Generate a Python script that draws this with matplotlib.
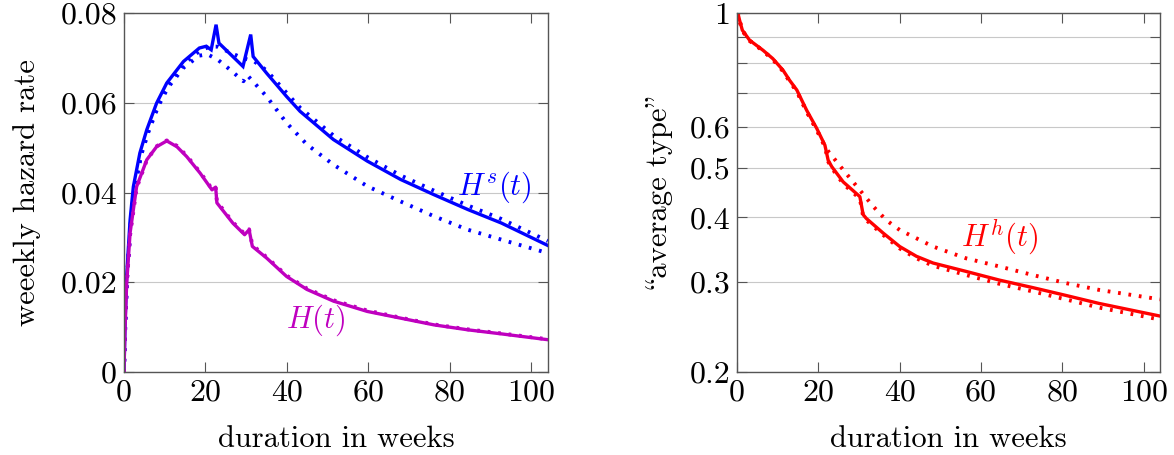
import numpy as np
import matplotlib.pyplot as plt

plt.rcParams["font.family"] = ["cmr10", "DejaVu Serif"]
plt.rcParams["mathtext.fontset"] = "cm"
plt.rcParams["axes.unicode_minus"] = False

# --- left panel: weekly hazard rates ---
t_hs = [0, 0.25, 0.65, 1.5, 2.3, 3.9, 5.6, 8, 10.5, 14.6, 18.5, 20.2, 21.4, 22.6, 23.3,
        29.2, 31.1, 31.7, 35, 39.9, 43.2, 51.4, 59.7, 67.9, 76.1, 84.4, 92.6, 104]
hs = [0, 0.0102, 0.0213, 0.0339, 0.0413, 0.0488, 0.0540, 0.0599, 0.0644, 0.0692, 0.0722,
      0.0726, 0.0718, 0.0774, 0.0733, 0.0681, 0.0752, 0.0703, 0.0666, 0.0614, 0.0581,
      0.0518, 0.0470, 0.0429, 0.0395, 0.0362, 0.0332, 0.0282]

t_hs_up = [0, 0.3, 0.75, 1.7, 2.6, 4.2, 6, 8.4, 10.8, 14.6, 18.5, 21, 23, 26, 29, 32, 35,
           39.9, 43.2, 51.4, 59.7, 67.9, 76.1, 84.4, 92.6, 104]
hs_up = [0, 0.0100, 0.0210, 0.0335, 0.0410, 0.0485, 0.0538, 0.0597, 0.0640, 0.0686, 0.0715,
         0.0725, 0.0725, 0.0712, 0.0700, 0.0692, 0.0672, 0.0622, 0.0589, 0.0527, 0.0479,
         0.0438, 0.0404, 0.0371, 0.0341, 0.0292]

t_hs_lo = [0, 0.3, 0.75, 1.7, 2.6, 4.2, 6, 8.4, 10.8, 14.6, 18.5, 20.5, 23, 26, 29.3, 30.2,
           35, 39.9, 44.9, 51.4, 59.7, 67.9, 76.1, 84.4, 92.6, 104]
hs_lo = [0, 0.0100, 0.0210, 0.0335, 0.0410, 0.0483, 0.0535, 0.0592, 0.0634, 0.0678, 0.0705,
         0.0708, 0.0696, 0.0674, 0.0648, 0.0662, 0.0614, 0.0555, 0.0507, 0.0462, 0.0414,
         0.0380, 0.0347, 0.0317, 0.0295, 0.0265]

t_h = [0, 0.25, 0.65, 1.5, 3.1, 5.6, 8, 10.5, 13, 15.4, 18.7, 21.6, 22.5, 22.8, 26.7, 29.6,
       30.7, 31.5, 35, 39.9, 44.9, 51.4, 59.7, 67.9, 76.1, 84.4, 92.6, 104]
h = [0, 0.0095, 0.0195, 0.0310, 0.0413, 0.0473, 0.0502, 0.0515, 0.0502, 0.0480, 0.0443,
     0.0406, 0.0412, 0.0377, 0.0332, 0.0306, 0.0317, 0.0280, 0.0254, 0.0213, 0.0184,
     0.0158, 0.0135, 0.0120, 0.0105, 0.0094, 0.0085, 0.0072]
h_dot = [0, 0.0090, 0.0190, 0.0305, 0.0410, 0.0472, 0.0503, 0.0516, 0.0504, 0.0482, 0.0445,
         0.0408, 0.0413, 0.0380, 0.0334, 0.0308, 0.0318, 0.0283, 0.0256, 0.0215, 0.0186,
         0.0160, 0.0137, 0.0121, 0.0106, 0.0095, 0.0086, 0.0073]

# --- right panel: average type ---
t_hh = [0, 0.2, 0.6, 1.3, 3.1, 6.4, 8.8, 11.3, 12.9, 14.7, 17.1, 19.6, 21.6, 22.4, 23.3,
        26.1, 30.2, 31.0, 31.8, 35.9, 40, 44.1, 48.2, 56.3, 64.5, 72.7, 80.8, 89, 104]
hh = [1.0, 1.0, 0.970, 0.926, 0.885, 0.846, 0.815, 0.774, 0.740, 0.708, 0.647, 0.596,
      0.553, 0.517, 0.502, 0.469, 0.439, 0.405, 0.398, 0.373, 0.351, 0.336, 0.326, 0.314,
      0.302, 0.292, 0.282, 0.272, 0.257]
hh_lo = [1.0, 1.0, 0.968, 0.924, 0.883, 0.844, 0.812, 0.771, 0.737, 0.704, 0.643, 0.592,
         0.550, 0.514, 0.499, 0.465, 0.435, 0.402, 0.395, 0.370, 0.348, 0.333, 0.322, 0.309,
         0.297, 0.287, 0.277, 0.267, 0.253]

t_hh_up = [0, 0.2, 0.6, 1.3, 3.1, 6.4, 8.8, 11.3, 12.9, 14.7, 17.1, 19.6, 21.6, 22.5, 26.1,
           30.2, 33.5, 36.7, 40, 48.2, 56.3, 64.5, 72.7, 80.8, 89, 104]
hh_up = [1.0, 1.0, 0.968, 0.924, 0.883, 0.844, 0.812, 0.771, 0.737, 0.704, 0.643, 0.592,
         0.550, 0.537, 0.495, 0.452, 0.420, 0.395, 0.378, 0.351, 0.333, 0.321, 0.309, 0.298,
         0.289, 0.277]

x_ticks = [0, 20, 40, 60, 80, 100]
left_yticks = [0, 0.02, 0.04, 0.06, 0.08]
left_ylabels = ["0", "0.02", "0.04", "0.06", "0.08"]
right_yticks = [0.2, 0.3, 0.4, 0.5, 0.6, 1]
right_yminor = [0.7, 0.8, 0.9]

BLUE = "#0000ff"
MAGENTA = "#bf00bf"
RED = "#ff0000"
FRAME = "#555555"
DOT = (0, (0.7, 2.0))
FS = 22
TFS = 23
LW = 2.4


def style_axes(ax):
    for s in ax.spines.values():
        s.set_color(FRAME)
        s.set_linewidth(1.0)
    ax.tick_params(which="both", direction="in", top=True, right=True, color=FRAME,
                   labelsize=TFS, length=7, width=0.8, pad=5)
    ax.set_xlim(0, 104)
    ax.set_xticks(x_ticks)
    ax.set_xticklabels([str(v) for v in x_ticks])
    ax.set_xlabel("duration in weeks", fontsize=FS, labelpad=14)


fig = plt.figure(figsize=(11.74, 4.55), dpi=100)
ax1 = fig.add_axes([0.1056, 0.1824, 0.361, 0.789])
ax2 = fig.add_axes([0.6278, 0.1824, 0.3603, 0.789])

# left
style_axes(ax1)
ax1.set_ylim(0, 0.08)
ax1.set_yticks(left_yticks)
ax1.set_yticklabels(left_ylabels)
ax1.yaxis.grid(True, color="#c8c8c8", lw=0.8)
ax1.set_axisbelow(True)
ax1.plot(t_hs, hs, color=BLUE, lw=LW, solid_joinstyle="miter")
ax1.plot(t_hs_up, hs_up, color=BLUE, lw=LW + 0.4, ls=DOT)
ax1.plot(t_hs_lo, hs_lo, color=BLUE, lw=LW + 0.4, ls=DOT)
ax1.plot(t_h, h, color=MAGENTA, lw=LW)
ax1.plot(t_h, h_dot, color=MAGENTA, lw=LW + 0.4, ls=DOT)
ax1.text(91, 0.0412, r"$H^s(t)$", color=BLUE, fontsize=FS, ha="center", va="center")
ax1.text(47, 0.0116, r"$H(t)$", color=MAGENTA, fontsize=FS, ha="center", va="center")
ax1.set_ylabel("weeekly hazard rate", fontsize=FS, labelpad=14)

# right
style_axes(ax2)
ax2.set_yscale("log")
ax2.set_ylim(0.2, 1)
ax2.set_yticks(right_yticks)
ax2.set_yticklabels([f"{v:g}" for v in right_yticks])
ax2.set_yticks(right_yminor, minor=True)
ax2.set_yticklabels([], minor=True)
ax2.yaxis.grid(True, which="both", color="#c8c8c8", lw=0.8)
ax2.set_axisbelow(True)
ax2.plot(t_hh, hh, color=RED, lw=LW)
ax2.plot(t_hh, hh_lo, color=RED, lw=LW + 0.4, ls=DOT)
ax2.plot(t_hh_up, hh_up, color=RED, lw=LW + 0.4, ls=DOT)
ax2.text(64.6, 0.366, r"$H^h(t)$", color=RED, fontsize=FS, ha="center", va="center")
# cmr10 keeps the TeX quote glyphs at the positions of \ and "
ax2.set_ylabel("\\average type\"", fontsize=FS, labelpad=12)

fig.savefig("out.png", dpi=100)
